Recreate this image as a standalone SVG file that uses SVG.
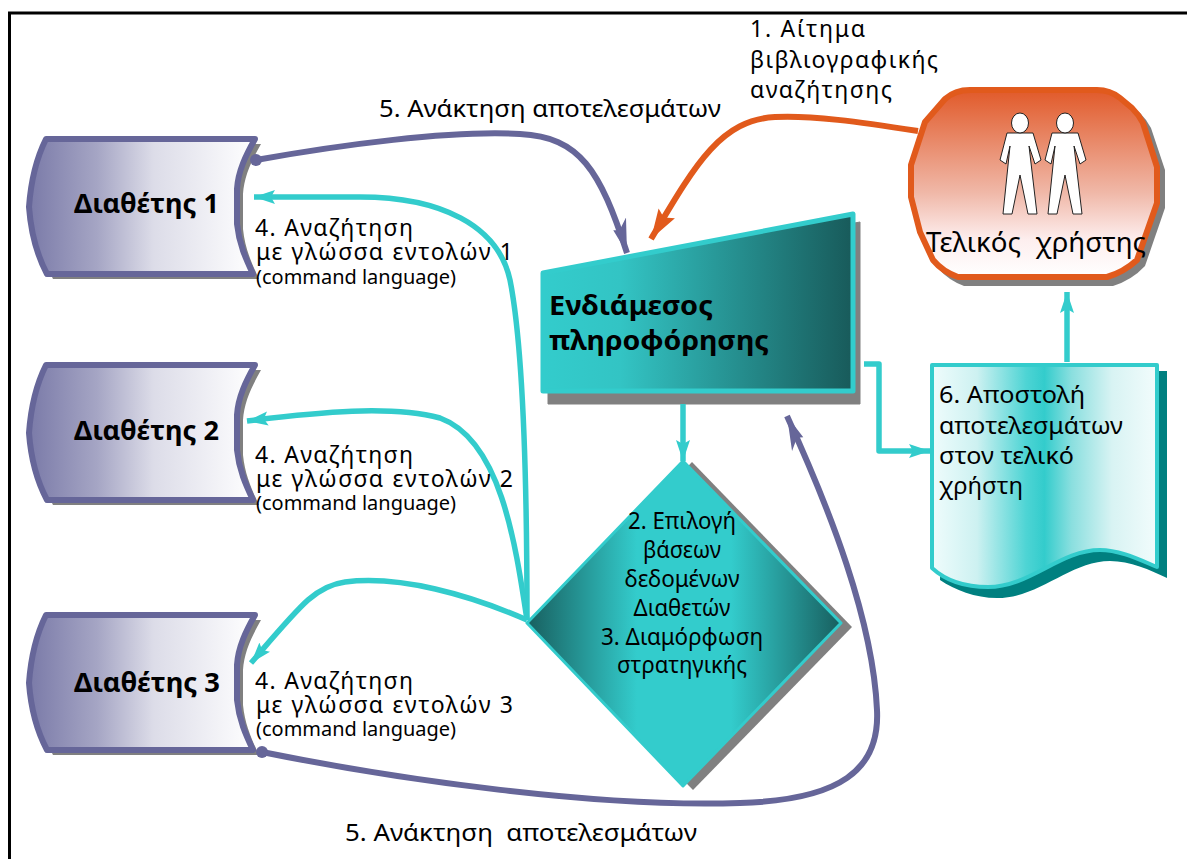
<svg xmlns="http://www.w3.org/2000/svg" width="1187" height="859" viewBox="0 0 1187 859">
<style>
text{font-family:"Noto Sans","DejaVu Sans",sans-serif;fill:#000}
.l{font-size:23px}.s{font-size:20px}.b{font-size:26px;font-weight:bold}.c{font-size:23px;text-anchor:middle}
.con{fill:none;stroke-linejoin:round}
.t{stroke:#33cccc;stroke-width:5.500}.p{stroke:#666699;stroke-width:6}.o{stroke:#e15a1c;stroke-width:6}
.ps{fill:url(#gp);stroke:#666699;stroke-width:6;stroke-linejoin:round}
</style>
<defs>
<linearGradient id="gp"><stop offset="0" stop-color="#7a7aa8"/><stop offset=".3" stop-color="#a5a5c4"/><stop offset=".55" stop-color="#dcdce8"/><stop offset="1" stop-color="#fff"/></linearGradient>
<linearGradient id="gr" x1="0" y1="0" x2="0" y2="1"><stop offset="0" stop-color="#e15a2a"/><stop offset=".55" stop-color="#f0b8a8"/><stop offset=".8" stop-color="#fdeeee"/><stop offset="1" stop-color="#fff"/></linearGradient>
<linearGradient id="gi"><stop offset="0" stop-color="#33cccc"/><stop offset=".25" stop-color="#33c4c4"/><stop offset="1" stop-color="#185a5a"/></linearGradient>
<linearGradient id="gd"><stop offset="0" stop-color="#185f5f"/><stop offset=".35" stop-color="#33cccc"/><stop offset=".65" stop-color="#33cccc"/><stop offset="1" stop-color="#185f5f"/></linearGradient>
<linearGradient id="gdoc"><stop offset="0" stop-color="#effcfc"/><stop offset=".2" stop-color="#cdf1f1"/><stop offset=".42" stop-color="#4dd4d4"/><stop offset=".5" stop-color="#33cccc"/><stop offset=".62" stop-color="#8adfdf"/><stop offset=".8" stop-color="#d8f3f3"/><stop offset="1" stop-color="#f2fcfc"/></linearGradient>
<path id="prov" d="M46 0H255C246 16 238 32 237 50V85C239 105 246 120 253 135H47C38 118 31 95 29 68C31 40 38 16 46 0Z"/>
<marker id="at" markerUnits="userSpaceOnUse" markerWidth="24" markerHeight="18" refX="21" refY="9" orient="auto"><path d="M0 2L21 9L0 16L4 9Z" fill="#33cccc"/></marker>
<marker id="ap" markerUnits="userSpaceOnUse" markerWidth="36" markerHeight="22" refX="34" refY="11" orient="auto"><path d="M0 1L34 11L8 17L10 11Z" fill="#666699"/></marker>
<marker id="ao" markerUnits="userSpaceOnUse" markerWidth="36" markerHeight="22" refX="34" refY="11" orient="auto"><path d="M4 1L34 11L4 20L9 11Z" fill="#e15a1c"/></marker>
<path id="man" d="M-13 0L13 0L21 27L15 31L9 13L17 81H8L0 42L-8 81H-17L-10 13L-14 31L-20 27Z" fill="#fff" stroke="#222" stroke-width="1"/>
</defs>
<rect width="1187" height="859" fill="#fff"/>
<path d="M9.500 859V13H1187" fill="none" stroke="#000" stroke-width="3"/>

<g id="provider1">
<use href="#prov" x="6" y="144" fill="#808080"/>
<use href="#prov" y="139" class="ps"/>
<text class="b" x="74" y="213" textLength="145" lengthAdjust="spacingAndGlyphs">Διαθέτης 1</text>
</g>
<g id="provider2">
<use href="#prov" x="6" y="370" fill="#808080"/>
<use href="#prov" y="365" class="ps"/>
<text class="b" x="74" y="440" textLength="145" lengthAdjust="spacingAndGlyphs">Διαθέτης 2</text>
</g>
<g id="provider3">
<use href="#prov" x="6" y="620" fill="#808080"/>
<use href="#prov" y="615" class="ps"/>
<text class="b" x="74" y="692" textLength="146" lengthAdjust="spacingAndGlyphs">Διαθέτης 3</text>
</g>

<g id="user">
<path d="M975 95H1103Q1118 95 1128 103L1140 113Q1147 120 1151 128L1165 170V208L1145 266Q1132 280 1113 286H964Q948 280 938 268L925 240L914 205V170L928 128L948 105Q960 95 975 95Z" fill="#808080"/>
<path d="M970 90H1097Q1110 90 1120 98L1132 108Q1139 115 1143 123L1157 167V203L1137 260Q1124 272 1107 277H958Q943 272 933 260L920 232L911 197V165L925 122L945 99Q955 90 970 90Z" fill="url(#gr)" stroke="#e15a1c" stroke-width="6" stroke-linejoin="round"/>
<use href="#man" x="1020" y="133"/><ellipse cx="1020" cy="123" rx="8.500" ry="10" fill="#fff" stroke="#222"/>
<use href="#man" x="1065" y="133"/><ellipse cx="1065" cy="123" rx="8.500" ry="10" fill="#fff" stroke="#222"/>
<text x="926" y="252" style="font-size:27px" textLength="220" lengthAdjust="spacingAndGlyphs" xml:space="preserve">Τελικός  χρήστης</text>
</g>

<g id="intermediary">
<path d="M548 279L860 222V404H548Z" fill="#808080" stroke="#808080" stroke-linejoin="round"/>
<path d="M543 273L853 214V391H543Z" fill="url(#gi)" stroke="#33cccc" stroke-width="5" stroke-linejoin="round"/>
<text class="b" x="549" y="315" textLength="164" lengthAdjust="spacingAndGlyphs">Ενδιάμεσος</text>
<text class="b" x="549" y="350" textLength="220" lengthAdjust="spacingAndGlyphs">πληροφόρησης</text>
</g>

<g id="decision">
<path d="M692 462L852 627L693 790L533 627Z" fill="#808080"/>
<path d="M683 461L841 623L683 786L527 623Z" fill="url(#gd)" stroke="#33cccc" stroke-width="3" stroke-linejoin="round"/>
<text class="c" x="682" y="529" textLength="108" lengthAdjust="spacingAndGlyphs">2. Επιλογή</text>
<text class="c" x="682" y="558" textLength="78" lengthAdjust="spacingAndGlyphs">βάσεων</text>
<text class="c" x="682" y="587" textLength="115" lengthAdjust="spacingAndGlyphs">δεδομένων</text>
<text class="c" x="682" y="616" textLength="97" lengthAdjust="spacingAndGlyphs">Διαθετών</text>
<text class="c" x="682" y="645" textLength="162" lengthAdjust="spacingAndGlyphs">3. Διαμόρφωση</text>
<text class="c" x="682" y="673" textLength="130" lengthAdjust="spacingAndGlyphs">στρατηγικής</text>
</g>

<g id="document">
<path d="M945 371H1167V578C1150 570 1130 561 1110 561C1070 561 1040 598 997 598C975 598 955 590 940 580Z" fill="#008080"/>
<path d="M932 365H1157V567C1140 560 1120 550 1100 550C1060 550 1030 587 988 587C965 587 945 580 932 568Z" fill="url(#gdoc)" stroke="#33cccc" stroke-width="4" stroke-linejoin="round"/>
<text class="l" x="939" y="403" textLength="146" lengthAdjust="spacingAndGlyphs">6. Αποστολή</text>
<text class="l" x="939" y="434" textLength="184" lengthAdjust="spacingAndGlyphs">αποτελεσμάτων</text>
<text class="l" x="939" y="464" textLength="135" lengthAdjust="spacingAndGlyphs">στον τελικό</text>
<text class="l" x="939" y="494" textLength="84" lengthAdjust="spacingAndGlyphs">χρήστη</text>
</g>

<g id="connectors">
<path class="con o" d="M918 131C860 122 810 115 775 117C720 120 695 165 651 239" marker-end="url(#ao)"/>
<path class="con p" d="M256 160C340 145 450 130 520 134C580 137 600 170 627 253" marker-end="url(#ap)"/>
<circle cx="256" cy="160" r="6" fill="#666699"/>
<path class="con p" d="M262 752C400 780 600 808 740 803C840 800 880 770 877 710C873 620 830 510 787 416" marker-end="url(#ap)"/>
<circle cx="262" cy="752" r="6" fill="#666699"/>
<path class="con t" d="M527 620C527 450 522 340 510 280C498 225 440 197 360 197H254" marker-end="url(#at)"/>
<path class="con t" d="M527 620C515 540 500 440 440 418C390 405 320 412 247 421" marker-end="url(#at)"/>
<path class="con t" d="M527 620C470 595 400 575 345 582C315 586 300 606 251 663" marker-end="url(#at)"/>
<path class="con t" d="M683 404V461" marker-end="url(#at)"/>
<path class="con t" d="M864 364H879V451H930" marker-end="url(#at)"/>
<path class="con t" d="M1067 362V292" marker-end="url(#at)"/>
</g>

<text class="l" x="379" y="117" textLength="342" lengthAdjust="spacingAndGlyphs">5. Ανάκτηση αποτελεσμάτων</text>
<text class="l" x="345" y="841" textLength="352" lengthAdjust="spacingAndGlyphs" xml:space="preserve">5. Ανάκτηση  αποτελεσμάτων</text>
<text class="l" x="750" y="37" textLength="115" lengthAdjust="spacing">1. Αίτημα</text>
<text class="l" x="750" y="68" textLength="188" lengthAdjust="spacing">βιβλιογραφικής</text>
<text class="l" x="750" y="98" textLength="142" lengthAdjust="spacing">αναζήτησης</text>

<text class="l" x="255" y="236" textLength="158" lengthAdjust="spacing">4. Αναζήτηση</text>
<text class="l" x="256" y="260" textLength="257" lengthAdjust="spacing">με γλώσσα εντολών 1</text>
<text class="s" x="256" y="284" textLength="200" lengthAdjust="spacingAndGlyphs">(command language)</text>
<text class="l" x="255" y="463" textLength="158" lengthAdjust="spacing">4. Αναζήτηση</text>
<text class="l" x="256" y="487" textLength="257" lengthAdjust="spacing">με γλώσσα εντολών 2</text>
<text class="s" x="256" y="510" textLength="200" lengthAdjust="spacingAndGlyphs">(command language)</text>
<text class="l" x="255" y="689" textLength="158" lengthAdjust="spacing">4. Αναζήτηση</text>
<text class="l" x="256" y="713" textLength="257" lengthAdjust="spacing">με γλώσσα εντολών 3</text>
<text class="s" x="256" y="736" textLength="200" lengthAdjust="spacingAndGlyphs">(command language)</text>
</svg>
